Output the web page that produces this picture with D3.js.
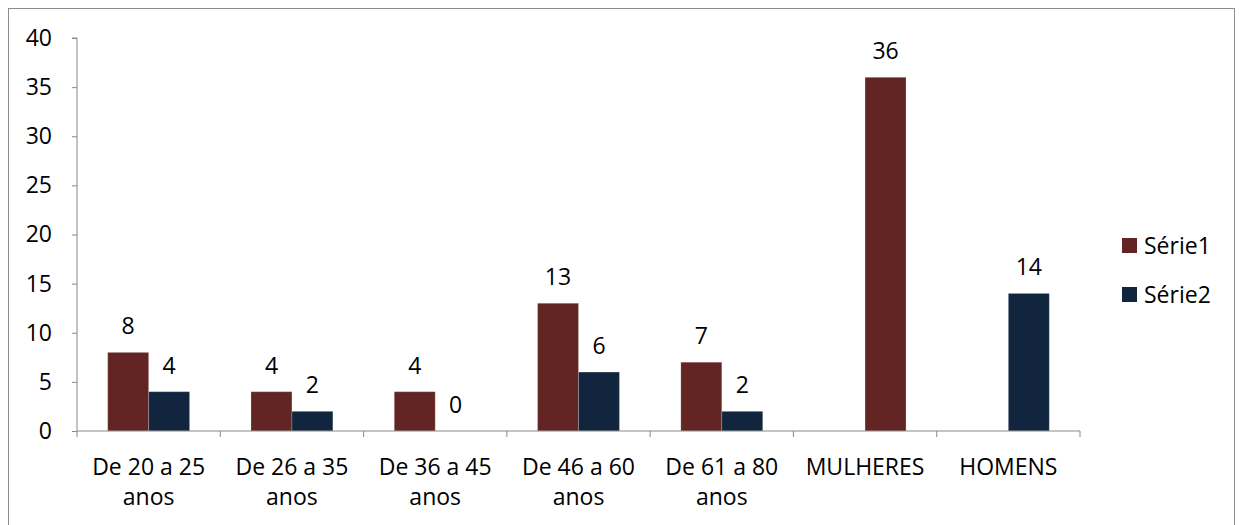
<!DOCTYPE html>
<html><head><meta charset="utf-8">
<script src="https://cdn.jsdelivr.net/npm/d3@7"></script>
<style>body{margin:0;background:#fff}svg{display:block}</style>
</head><body><svg id="c" width="1239" height="525"></svg>
<script>
const categories = [["De 20 a 25","anos"],["De 26 a 35","anos"],["De 36 a 45","anos"],["De 46 a 60","anos"],["De 61 a 80","anos"],["MULHERES"],["HOMENS"]];
const serie1 = [8, 4, 4, 13, 7, null, null];
const serie2 = [4, 2, 0, 6, 2, 36, 14];
const seriesNames = ["Série1", "Série2"];
const seriesColors = ["#632523", "#12253F"];
// the MULHERES point of Série2 is filled with the Série1 colour in the original
const pointColorOverride2 = [null, null, null, null, null, "#632523", null];
const yTicks = [0,5,10,15,20,25,30,35,40];

(function(){
const svg = d3.select("#c");
const font = "'Open Sans', sans-serif";
const fs = 23;
const pL = 77, pR = 1080, pT = 38, pB = 431;
const axisColor = "#898989";

svg.append("rect").attr("x",8.5).attr("y",8.5).attr("width",1226).attr("height",530)
  .attr("fill","none").attr("stroke","#8c8c8c").attr("stroke-width",1);

const x = d3.scaleBand().domain(d3.range(categories.length)).range([pL,pR]).paddingInner(0).paddingOuter(0);
const inner = d3.scaleBand().domain([0,1]).range([0,x.bandwidth()]).paddingInner(0).paddingOuter(0.75);
const y = d3.scaleLinear().domain([0,40]).range([pB,pT]);

const data = [serie1, serie2];
const overrides = [[], pointColorOverride2];
data.forEach((s,si)=>{
  const g = svg.append("g");
  s.forEach((v,i)=>{
    if (v === null) return;
    const bx = x(i)+inner(si);
    const col = overrides[si][i] || seriesColors[si];
    g.append("rect").attr("x",bx).attr("y",y(v)).attr("width",inner.bandwidth()).attr("height",pB-y(v))
      .attr("fill",col).attr("stroke","#ffffff").attr("stroke-opacity",0.2).attr("stroke-width",1);
    g.append("text").attr("x",bx+inner.bandwidth()/2).attr("y",y(v)-18)
      .attr("text-anchor","middle").attr("font-family",font).attr("font-size",fs).attr("fill","#000").text(v);
  });
});

const yAxis = d3.axisLeft(y).tickValues(yTicks).tickSize(5).tickPadding(20);
const ga = svg.append("g").attr("transform",`translate(${pL},0)`).call(yAxis);
ga.select(".domain").attr("stroke",axisColor).attr("d",`M-5,${pT}H0V${pB}`);
ga.selectAll(".tick line").attr("stroke",axisColor);
ga.selectAll(".tick text").attr("font-family",font).attr("font-size",fs).attr("fill","#000");

const xb = svg.append("g").attr("transform",`translate(0,${pB})`);
xb.append("path").attr("d",`M${pL},0H${pR}`).attr("stroke",axisColor).attr("fill","none");
const tickPos = d3.range(categories.length+1).map(i=> i<categories.length ? x(i) : pR);
xb.selectAll("line.t").data(tickPos).join("line").attr("class","t")
  .attr("x1",d=>d).attr("x2",d=>d).attr("y1",0).attr("y2",6).attr("stroke",axisColor);
categories.forEach((lines,i)=>{
  const t = xb.append("text").attr("text-anchor","middle").attr("font-family",font).attr("font-size",fs).attr("fill","#000");
  lines.forEach((l,li)=>{
    t.append("tspan").attr("x",x(i)+x.bandwidth()/2).attr("y",44+li*30).text(l);
  });
});

const lg = svg.append("g");
seriesNames.forEach((n,i)=>{
  lg.append("rect").attr("x",1122).attr("y",238+i*49).attr("width",15).attr("height",15).attr("fill",seriesColors[i]);
  lg.append("text").attr("x",1144).attr("y",254+i*49).attr("font-family",font).attr("font-size",fs).attr("fill","#000").text(n);
});
})();
</script></body></html>
